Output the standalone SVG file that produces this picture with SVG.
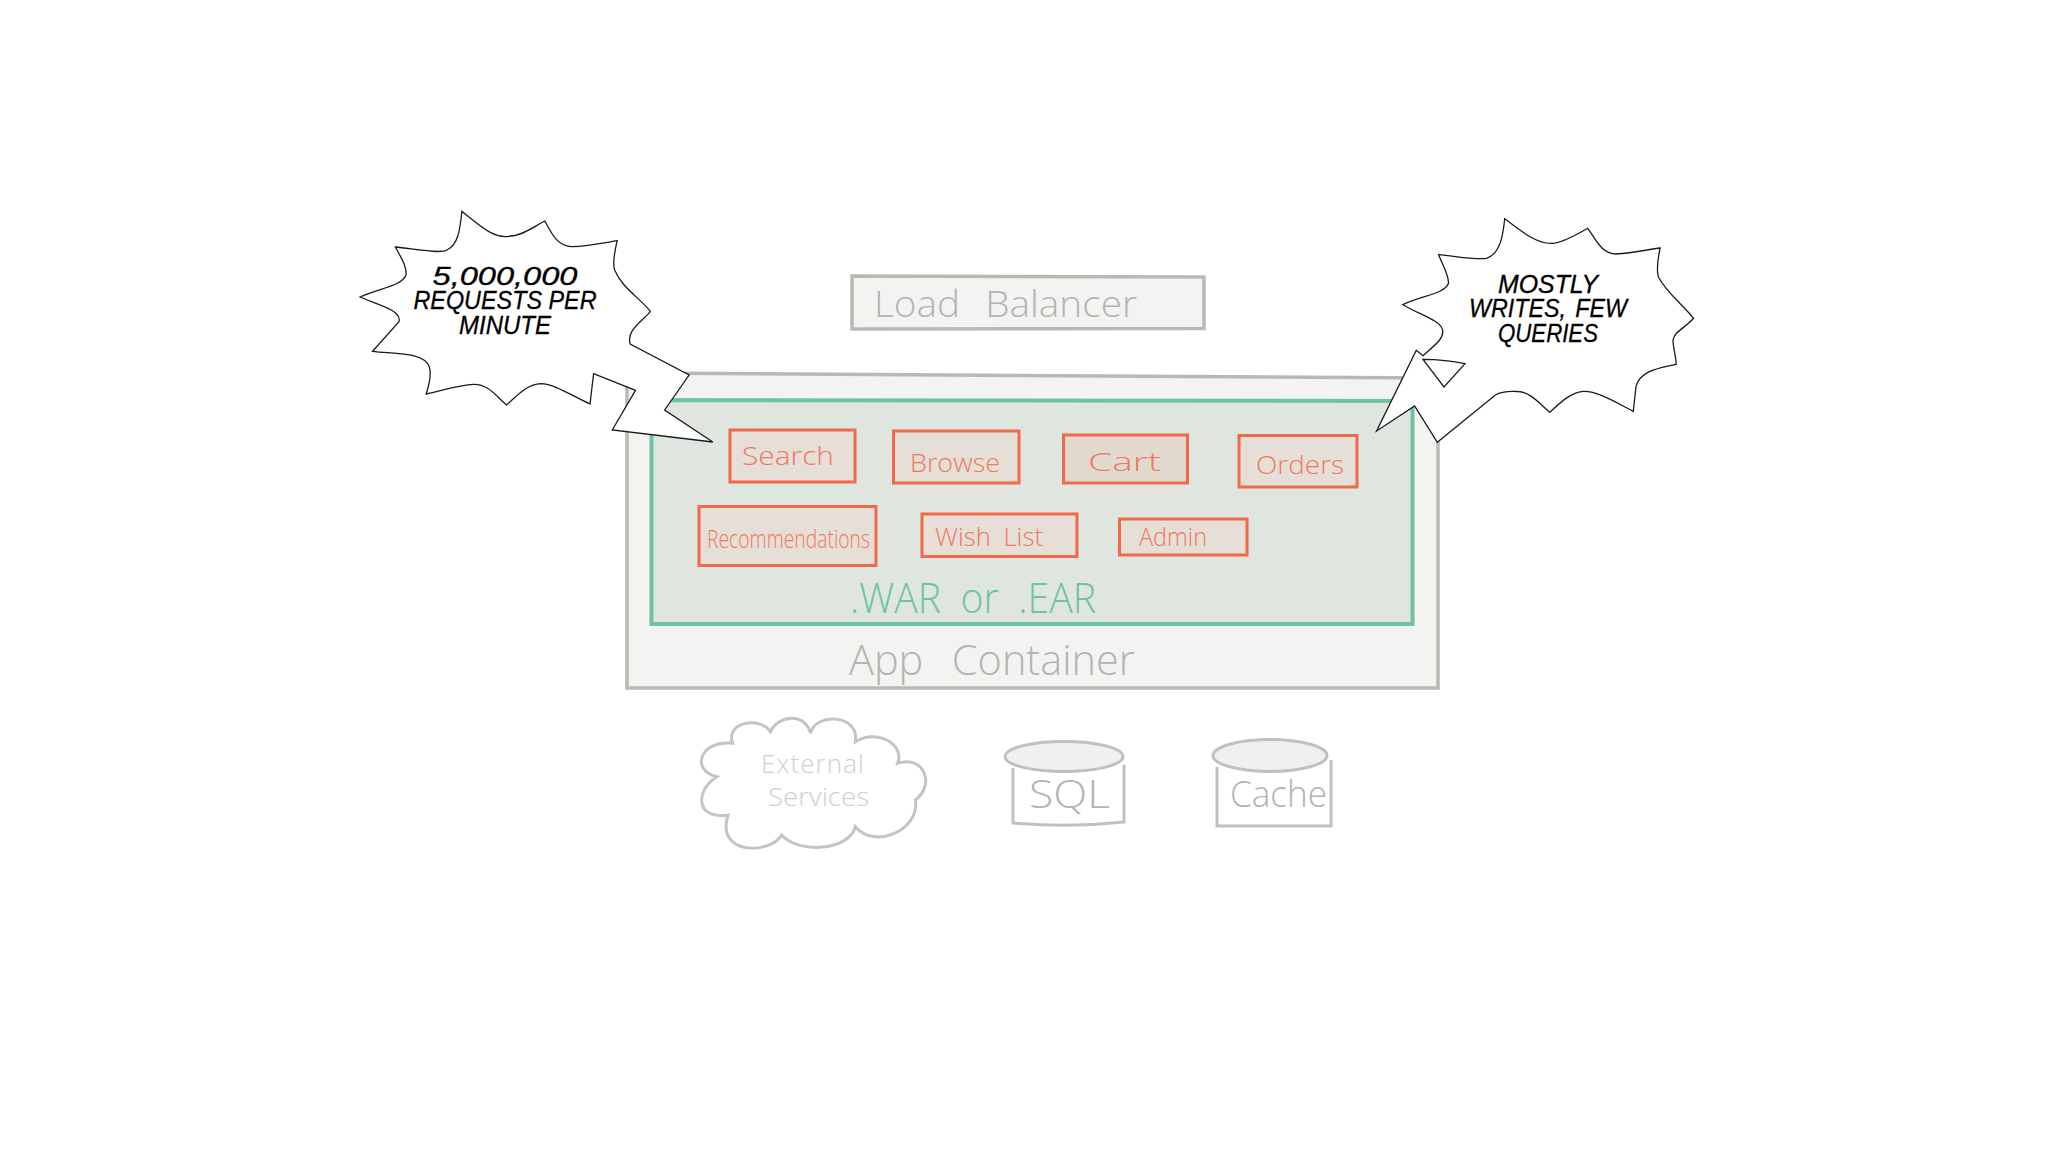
<svg xmlns="http://www.w3.org/2000/svg" width="2048" height="1152" viewBox="0 0 2048 1152">
<style>
.gb{fill:#f3f3f2;stroke:#b9b9b4;stroke-width:3.500}
.or{fill:#e5dfd8;stroke:#f2694a;stroke-width:3}
.h{font-family:"Open Sans","Liberation Sans",sans-serif;font-weight:300;text-anchor:start}
.ot{fill:#f0785c;font-size:26px}
.gt{fill:#b3b3b1}
.burst{fill:#fff;stroke:#1a1a1a;stroke-width:1.300;stroke-linejoin:miter}
.bt{font-family:"Liberation Sans",Arial,sans-serif;font-style:italic;font-size:25px;fill:#000;stroke:#000;stroke-width:.3;text-anchor:middle}
.cyl{fill:none;stroke:#c0c0bc;stroke-width:3}
</style>
<rect width="2048" height="1152" fill="#fff"/>
<g id="load-balancer">
<path class="gb" d="M852 276L1204 277V328.500L852 329Z"/>
<text class="h gt" x="874" y="317" font-size="36" word-spacing="14" textLength="263" lengthAdjust="spacingAndGlyphs">Load Balancer</text>
</g>
<g id="app-container">
<path class="gb" d="M627 373L1438 378V688H627Z"/>
<text class="h gt" x="849" y="675" font-size="42" word-spacing="18" textLength="286" lengthAdjust="spacingAndGlyphs">App Container</text>
</g>
<g id="war-ear">
<path d="M651.500 400L1412.500 401V624H651.500Z" fill="#dfe6e0" stroke="#6fc3a3" stroke-width="4"/>
<text class="h" x="850" y="613" font-size="42" fill="#6fc3a3" word-spacing="10" textLength="246" lengthAdjust="spacingAndGlyphs">.WAR or .EAR</text>
</g>
<g id="search"><rect class="or" x="730" y="430" width="125" height="52"/><text class="h ot" x="742" y="465" textLength="92" lengthAdjust="spacingAndGlyphs">Search</text></g>
<g id="browse"><rect class="or" x="893.500" y="431" width="125.500" height="52"/><text class="h ot" x="910" y="472" textLength="90" lengthAdjust="spacingAndGlyphs">Browse</text></g>
<g id="cart"><rect class="or" x="1063.500" y="435" width="124" height="48" style="fill:#e2dacf"/><text class="h ot" x="1088" y="471" textLength="73" lengthAdjust="spacingAndGlyphs">Cart</text></g>
<g id="orders"><rect class="or" x="1239" y="435.500" width="118" height="51.500"/><text class="h ot" x="1256" y="474" textLength="88" lengthAdjust="spacingAndGlyphs">Orders</text></g>
<g id="recommendations"><rect class="or" x="699" y="506.500" width="177" height="59"/><text class="h ot" x="707" y="548" textLength="163" lengthAdjust="spacingAndGlyphs">Recommendations</text></g>
<g id="wish-list"><rect class="or" x="922" y="514" width="155" height="42.500"/><text class="h ot" x="935" y="546" word-spacing="6" textLength="108" lengthAdjust="spacingAndGlyphs">Wish List</text></g>
<g id="admin"><rect class="or" x="1119.500" y="519" width="127.500" height="36"/><text class="h ot" x="1139" y="546" font-size="24" textLength="68" lengthAdjust="spacingAndGlyphs">Admin</text></g>
<g id="external-services">
<path d="M732.500 743.300C725 722 760 716 770.400 731.700C778 715 805 712 810.600 733.300C815 712 860 714 855.300 741.700C878 728 905 745 897.700 763.300C925 755 935 785 915.500 800C920 830 875 850 855.300 826.700C850 850 800 855 781.600 835C770 855 715 855 728 815C695 820 695 790 716.900 776.700C690 770 700 740 732.500 743.300Z" fill="#fff" stroke="#c4c4c0" stroke-width="3"/>
<text class="h" x="761" y="773" font-size="26" fill="#cfcfcd" textLength="103" lengthAdjust="spacing">External</text>
<text class="h" x="768" y="806" font-size="26" fill="#cfcfcd" textLength="101" lengthAdjust="spacingAndGlyphs">Services</text>
</g>
<g id="sql">
<path class="cyl" d="M1013 768V823Q1070 828 1124 822V765"/>
<ellipse cx="1064" cy="756.500" rx="59" ry="15" fill="#f0f0ef" stroke="#c0c0bc" stroke-width="3"/>
<text class="h gt" x="1029" y="808" font-size="38" textLength="81" lengthAdjust="spacingAndGlyphs">SQL</text>
</g>
<g id="cache">
<path class="cyl" d="M1217 767V826H1331V760"/>
<ellipse cx="1270" cy="755.500" rx="57" ry="16" fill="#f0f0ef" stroke="#c0c0bc" stroke-width="3"/>
<text class="h gt" x="1230" y="807" font-size="36" textLength="97" lengthAdjust="spacingAndGlyphs">Cache</text>
</g>
<g id="burst-left">
<path class="burst" d="M461.900 211.300C480 226 495 240 510.500 236C522 236 535 226 544.900 221C552 235 558 246 572 246.700C588 246 603 243 617.200 240.700C615 250 612 262 614.600 270C622 288 640 298 650.300 311.300C642 322 626 330 630.200 344L689.100 375L664.600 410L712.800 442L612.300 430L635.500 390.300L593.600 373.700L590 404C572 396 555 384 540.900 383.700C526 384 515 398 506.500 405C496 396 488 384 473.900 384.300C458 385 441 391 426.200 394C430 382 431 372 429.300 366.700C424 352 395 354 372.600 351.300L399 321.700C402 310 378 305 360 297C380 288 402 286 406 275C407 266 400 256 395.400 247C415 249 440 254 447 250C458 245 460 230 461.900 211.300Z"/>
<text class="bt" x="505" y="285" textLength="145" lengthAdjust="spacingAndGlyphs">5,000,000</text>
<text class="bt" x="505" y="309.300" textLength="183" lengthAdjust="spacingAndGlyphs">REQUESTS PER</text>
<text class="bt" x="505" y="334" textLength="92" lengthAdjust="spacingAndGlyphs">MINUTE</text>
</g>
<g id="burst-right">
<path class="burst" d="M1504.700 218.700C1522 232 1538 245 1553.400 243.300C1565 242 1577 234 1587.800 228.300C1596 240 1602 254 1615.900 254C1632 253 1646 250 1660.100 248C1658 258 1656 268 1658.300 276.700C1666 292 1682 304 1693.600 318.300C1685 328 1674 332 1673 340C1673 348 1676 356 1676.200 364.300C1660 368 1640 370 1636 386.700L1633.300 411.300C1615 402 1598 391 1583.800 391.300C1570 392 1558 405 1549.800 412.300C1538 402 1530 392 1517.700 391.500C1510 391 1502 391 1495.400 395L1437.300 442.300L1414.600 406L1376.600 431L1416.300 350.300L1423 355.700C1432 347 1444 340 1442.700 330C1440 320 1420 315 1402.900 304.700C1420 296 1445 294 1448.500 283.300C1449 275 1442 264 1438.700 254.700C1455 256 1475 260 1486.400 258.300C1500 254 1503 236 1504.700 218.700Z"/>
<path class="burst" d="M1423 359.300Q1446 359.500 1465 363.700L1444 387Z"/>
<text class="bt" x="1548" y="292.700" textLength="100" lengthAdjust="spacingAndGlyphs">MOSTLY</text>
<text class="bt" x="1548" y="317" word-spacing="3" textLength="158" lengthAdjust="spacingAndGlyphs">WRITES, FEW</text>
<text class="bt" x="1548" y="341.700" textLength="100" lengthAdjust="spacingAndGlyphs">QUERIES</text>
</g>
</svg>
